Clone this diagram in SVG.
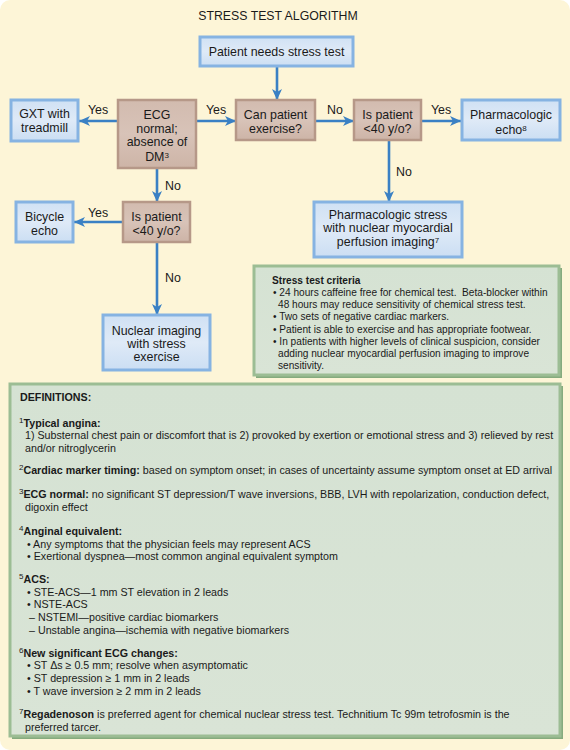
<svg xmlns="http://www.w3.org/2000/svg" width="570" height="750" viewBox="0 0 570 750">
<defs>
<style>
text{font-family:"Liberation Sans",Arial,sans-serif;fill:#1a1a1a}
.t{font-size:12.4px;text-anchor:middle}
.lbl{font-size:12.4px;text-anchor:middle}
.d{font-size:10.7px}
.c{font-size:10.15px}
.b{font-weight:bold}
.blue{fill:url(#gBlue);stroke:#86b3e2;stroke-width:3}
.brown{fill:url(#gBrown);stroke:#b69888;stroke-width:2.5}
.green{fill:url(#gGreen);stroke:#9cbd94;stroke-width:3}
.con line{stroke:#3a80c4;stroke-width:2.6;marker-end:url(#ah)}
</style>
<linearGradient id="gBlue" x1="0" y1="0" x2="0" y2="1">
<stop offset="0" stop-color="#d0e1f4"/><stop offset="0.5" stop-color="#dfeaf7"/><stop offset="1" stop-color="#cbdef3"/>
</linearGradient>
<linearGradient id="gBrown" x1="0" y1="0" x2="0" y2="1">
<stop offset="0" stop-color="#d2bbaf"/><stop offset="0.5" stop-color="#d8c3b8"/><stop offset="1" stop-color="#cdb4a7"/>
</linearGradient>
<linearGradient id="gGreen" x1="0" y1="0" x2="0" y2="1">
<stop offset="0" stop-color="#d5e2d3"/><stop offset="1" stop-color="#d9e4d6"/>
</linearGradient>
<marker id="ah" markerUnits="userSpaceOnUse" markerWidth="12" markerHeight="12" viewBox="0 0 12 12" refX="11" refY="6" orient="auto">
<path d="M0,1 L11,6 L0,11 L3,6 Z" fill="#3a80c4"/>
</marker>
</defs>
<rect x="0" y="0" width="570" height="750" fill="#ffffff"/>
<rect x="0" y="0" width="570" height="750" rx="10" fill="#fdf5d7"/>
<text x="278" y="20" style="font-size:12.3px;text-anchor:middle">STRESS TEST ALGORITHM</text>

<g class="con" id="connectors">
<line x1="277" y1="67" x2="277" y2="100"/>
<line x1="117" y1="121" x2="79" y2="121"/>
<line x1="196" y1="121" x2="236" y2="121"/>
<line x1="315" y1="121" x2="354" y2="121"/>
<line x1="421" y1="121" x2="461" y2="121"/>
<line x1="389" y1="140" x2="389" y2="202"/>
<line x1="157" y1="168" x2="157" y2="202"/>
<line x1="123" y1="222" x2="74" y2="222"/>
<line x1="157" y1="242" x2="157" y2="315"/>
<text class="lbl" x="98" y="114">Yes</text>
<text class="lbl" x="216" y="114">Yes</text>
<text class="lbl" x="335" y="114">No</text>
<text class="lbl" x="441" y="114">Yes</text>
<text class="lbl" x="404" y="176">No</text>
<text class="lbl" x="173" y="190">No</text>
<text class="lbl" x="98" y="217">Yes</text>
<text class="lbl" x="173" y="282">No</text>
</g>

<g id="start">
<rect class="blue" x="200" y="37" width="153" height="29"/>
<text class="t" x="276.5" y="56">Patient needs stress test</text>
</g>
<g id="gxt">
<rect class="blue" x="11" y="100" width="67" height="41"/>
<text class="t" x="44.5" y="118">GXT with</text>
<text class="t" x="44.5" y="132">treadmill</text>
</g>
<g id="ecg">
<rect class="brown" x="118" y="100" width="78" height="68"/>
<text class="t" x="157" y="119">ECG</text>
<text class="t" x="157" y="133">normal;</text>
<text class="t" x="157" y="146">absence of</text>
<text class="t" x="157" y="161">DM<tspan font-size="8" dy="-3.5">3</tspan></text>
</g>
<g id="canexercise">
<rect class="brown" x="236" y="100" width="79" height="40"/>
<text class="t" x="275.5" y="119">Can patient</text>
<text class="t" x="275.5" y="133">exercise?</text>
</g>
<g id="age1">
<rect class="brown" x="354" y="100" width="67" height="40"/>
<text class="t" x="387.5" y="119">Is patient</text>
<text class="t" x="387.5" y="133">&lt;40 y/o?</text>
</g>
<g id="pharmecho">
<rect class="blue" x="462" y="100" width="98" height="40"/>
<text class="t" x="511" y="119">Pharmacologic</text>
<text class="t" x="511" y="134">echo<tspan font-size="8" dy="-3.5">8</tspan></text>
</g>
<g id="pharmstress">
<rect class="blue" x="314" y="202" width="148" height="55"/>
<text class="t" x="388" y="219">Pharmacologic stress</text>
<text class="t" x="388" y="232">with nuclear myocardial</text>
<text class="t" x="388" y="246">perfusion imaging<tspan font-size="8" dy="-3.5">7</tspan></text>
</g>
<g id="age2">
<rect class="brown" x="123" y="202" width="67" height="40"/>
<text class="t" x="156.5" y="221">Is patient</text>
<text class="t" x="156.5" y="235">&lt;40 y/o?</text>
</g>
<g id="bicycle">
<rect class="blue" x="16" y="202" width="57" height="40"/>
<text class="t" x="44.5" y="221">Bicycle</text>
<text class="t" x="44.5" y="235">echo</text>
</g>
<g id="nuclear">
<rect class="blue" x="103" y="315" width="107" height="55"/>
<text class="t" x="156.5" y="335">Nuclear imaging</text>
<text class="t" x="156.5" y="348">with stress</text>
<text class="t" x="156.5" y="361">exercise</text>
</g>

<g id="criteria">
<rect x="256" y="268" width="306" height="110" fill="#86ab7e"/>
<rect class="green" x="254" y="266" width="305" height="109"/>
<text class="c b" x="272" y="284">Stress test criteria</text>
<text class="c" x="273" y="296" xml:space="preserve">• 24 hours caffeine free for chemical test.  Beta-blocker within</text>
<text class="c" x="278" y="308">48 hours may reduce sensitivity of chemical stress test.</text>
<text class="c" x="273" y="320">• Two sets of negative cardiac markers.</text>
<text class="c" x="273" y="333">• Patient is able to exercise and has appropriate footwear.</text>
<text class="c" x="273" y="345">• In patients with higher levels of clinical suspicion, consider</text>
<text class="c" x="278" y="357">adding nuclear myocardial perfusion imaging to improve</text>
<text class="c" x="278" y="369">sensitivity.</text>
</g>

<g id="definitions">
<rect x="12" y="386" width="551" height="353" fill="#86ab7e"/>
<rect class="green" x="10" y="384" width="550" height="352"/>
<text class="d b" x="20" y="401">DEFINITIONS:</text>
<text class="d" x="19" y="427"><tspan font-size="8" dy="-4">1</tspan><tspan class="b" dy="4">Typical angina:</tspan></text>
<text class="d" x="25" y="439">1) Substernal chest pain or discomfort that is 2) provoked by exertion or emotional stress and 3) relieved by rest</text>
<text class="d" x="25" y="452">and/or nitroglycerin</text>
<text class="d" x="19" y="474"><tspan font-size="8" dy="-4">2</tspan><tspan class="b" dy="4">Cardiac marker timing:</tspan> based on symptom onset; in cases of uncertainty assume symptom onset at ED arrival</text>
<text class="d" x="19" y="498"><tspan font-size="8" dy="-4">3</tspan><tspan class="b" dy="4">ECG normal:</tspan> no significant ST depression/T wave inversions, BBB, LVH with repolarization, conduction defect,</text>
<text class="d" x="25" y="511">digoxin effect</text>
<text class="d" x="19" y="535"><tspan font-size="8" dy="-4">4</tspan><tspan class="b" dy="4">Anginal equivalent:</tspan></text>
<text class="d" x="27" y="548">• Any symptoms that the physician feels may represent ACS</text>
<text class="d" x="27" y="560">• Exertional dyspnea—most common anginal equivalent symptom</text>
<text class="d" x="19" y="583"><tspan font-size="8" dy="-4">5</tspan><tspan class="b" dy="4">ACS:</tspan></text>
<text class="d" x="27" y="596">• STE-ACS—1 mm ST elevation in 2 leads</text>
<text class="d" x="27" y="608">• NSTE-ACS</text>
<text class="d" x="29" y="621">– NSTEMI—positive cardiac biomarkers</text>
<text class="d" x="29" y="634">– Unstable angina—ischemia with negative biomarkers</text>
<text class="d" x="19" y="657"><tspan font-size="8" dy="-4">6</tspan><tspan class="b" dy="4">New significant ECG changes:</tspan></text>
<text class="d" x="27" y="669">• ST Δs ≥ 0.5 mm; resolve when asymptomatic</text>
<text class="d" x="27" y="682">• ST depression ≥ 1 mm in 2 leads</text>
<text class="d" x="27" y="695">• T wave inversion ≥ 2 mm in 2 leads</text>
<text class="d" x="19" y="718"><tspan font-size="8" dy="-4">7</tspan><tspan class="b" dy="4">Regadenoson</tspan> is preferred agent for chemical nuclear stress test. Technitium Tc 99m tetrofosmin is the</text>
<text class="d" x="25" y="731">preferred tarcer.</text>
</g>
</svg>
